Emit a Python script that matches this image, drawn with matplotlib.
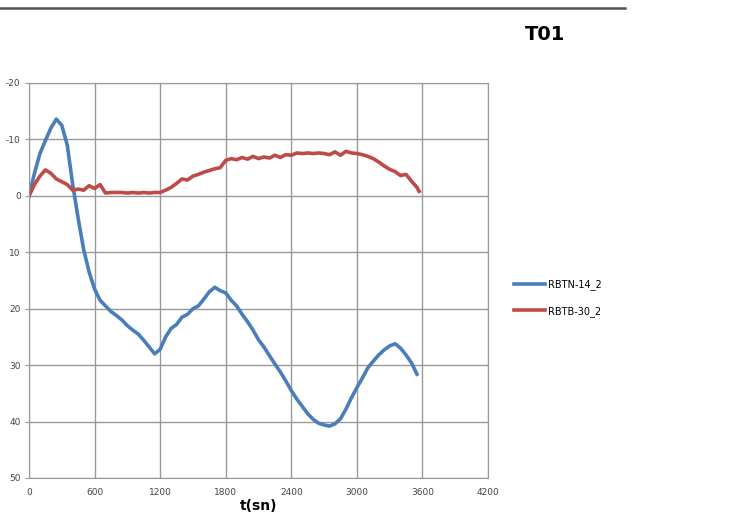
import numpy as np
import matplotlib
matplotlib.use("Agg")
import matplotlib.pyplot as plt
from matplotlib.lines import Line2D

plt.rcParams["axes.unicode_minus"] = False

# readings taken every 50 s
t_blue = list(range(0, 3600, 50))
rbtn_14_2 = [0, -4, -7.5, -9.8, -12, -13.6, -12.5, -9, -2, 4,
             9.5, 13.5, 16.5, 18.5, 19.5, 20.5, 21.2, 22, 23, 23.8,
             24.5, 25.6, 26.8, 28, 27.2, 25, 23.5, 22.8, 21.5, 21,
             20, 19.5, 18.3, 17, 16.2, 16.8, 17.2, 18.5, 19.5, 21,
             22.3, 23.8, 25.5, 26.8, 28.3, 29.8, 31.2, 32.8, 34.5, 36,
             37.3, 38.6, 39.6, 40.3, 40.6, 40.8, 40.4, 39.5, 37.8, 35.8,
             34, 32.3, 30.5, 29.3, 28.2, 27.3, 26.6, 26.2, 27, 28.2,
             29.6, 31.6]

t_red = list(range(0, 3600, 50)) + [3570]
rbtb_30_2 = [0, -2, -3.5, -4.6, -4, -3, -2.5, -2, -1, -1.2,
             -1, -1.8, -1.3, -2, -0.5, -0.6, -0.6, -0.6, -0.5, -0.6,
             -0.5, -0.6, -0.5, -0.6, -0.6, -1, -1.5, -2.2, -3, -2.8,
             -3.5, -3.8, -4.2, -4.5, -4.8, -5, -6.3, -6.6, -6.4, -6.8,
             -6.5, -7, -6.6, -6.9, -6.7, -7.2, -6.8, -7.3, -7.2, -7.6,
             -7.5, -7.6, -7.5, -7.6, -7.5, -7.3, -7.8, -7.2, -7.9, -7.6,
             -7.5, -7.3, -7, -6.6, -6, -5.3, -4.7, -4.3, -3.6, -3.8,
             -2.6, -1.5, -0.8]

x_ticks = [0, 600, 1200, 1800, 2400, 3000, 3600, 4200]
y_ticks = [-20, -10, 0, 10, 20, 30, 40, 50]

fig = plt.figure(figsize=(7.32, 5.23), dpi=100)
ax = fig.add_axes([29/732, 1 - 478/523, 459/732, 395/523])

ax.plot(t_blue, rbtn_14_2, color="#4a7ebb", lw=2.6, label="RBTN-14_2")
ax.plot(t_red, rbtb_30_2, color="#be4b48", lw=2.6, label="RBTB-30_2")

ax.set_xlim(0, 4200)
ax.set_ylim(50, -20)
ax.set_xticks(x_ticks)
ax.set_yticks(y_ticks)
ax.grid(True, color="#999999", lw=1.0)
ax.set_axisbelow(True)
for s in ax.spines.values():
    s.set_color("#999999")
ax.tick_params(axis="both", labelsize=6.5, colors="#999999", labelcolor="#444444", length=3)
ax.tick_params(axis="x", pad=7, length=0)
ax.tick_params(axis="y", pad=3)

ax.set_xlabel("t(sn)", fontsize=10, fontweight="bold", labelpad=2)

fig.text(545/732, 1 - 35/523, "T01", fontsize=14, fontweight="bold", ha="center", va="center")

leg = ax.legend(loc="center left", bbox_to_anchor=(505/732, 1 - 298/523),
                bbox_transform=fig.transFigure, frameon=False, fontsize=7,
                handlelength=3.2, labelspacing=1.6, handletextpad=0.3)

# rule across the top of the page
fig.add_artist(Line2D([0, 625/732], [1 - 8/523, 1 - 8/523], color="#555555", lw=1.8))

fig.savefig("out.png", dpi=100)
